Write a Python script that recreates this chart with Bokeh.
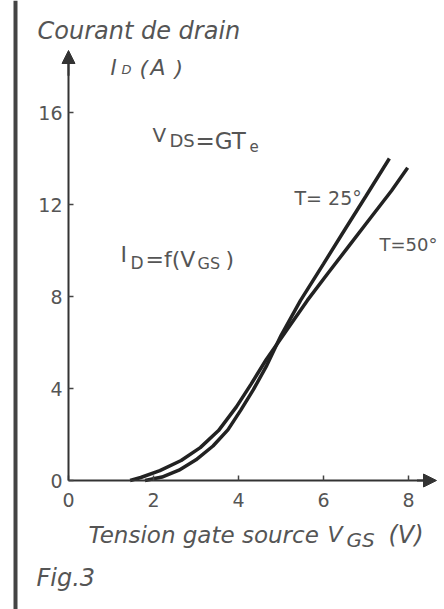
from bokeh.plotting import figure
from bokeh.models import Label, Arrow, NormalHead, Span
from bokeh.embed import file_html
from bokeh.resources import INLINE

# ---- data ----
vgs_25 = [1.8, 2.2, 2.6, 3.0, 3.4, 3.75, 4.05, 4.35, 4.65, 5.0, 5.46, 6.0, 6.5, 7.0, 7.55]
id_25 = [0.0, 0.15, 0.45, 0.9, 1.5, 2.2, 3.05, 3.95, 4.95, 6.3, 7.83, 9.42, 10.9, 12.37, 14.0]
vgs_50 = [1.45, 1.7, 2.15, 2.65, 3.1, 3.53, 3.95, 4.3, 4.65, 5.1, 5.62, 6.1, 6.6, 7.1, 7.6, 7.98]
id_50 = [0.0, 0.13, 0.43, 0.87, 1.43, 2.17, 3.2, 4.2, 5.25, 6.45, 7.83, 9.0, 10.2, 11.4, 12.6, 13.6]
x_ticks = [0, 2, 4, 6, 8]
y_ticks = [0, 4, 8, 12, 16]

# ---- layout ----
W, H = 444, 609
PX_V, PX_A = 42.5, 23.0   # pixels per volt / per ampere
OX, OY = 68, 480          # origin in figure pixels
x0, x1 = -OX / PX_V, (W - OX) / PX_V
y0, y1 = -(H - OY) / PX_A, OY / PX_A


def dx(px):
    return (px - OX) / PX_V


def dy(py):
    return (OY - py) / PX_A


FONT = "DejaVu Sans"
TXT = "#555555"
INK = "#222222"

p = figure(width=W, height=H, x_range=(x0, x1), y_range=(y0, y1),
           output_backend="svg", toolbar_location=None, min_border=0,
           outline_line_color=None, background_fill_color="white",
           border_fill_color="white")
p.grid.visible = False

for ax, ticks, bnd in ((p.xaxis, x_ticks, (0, 8.4)), (p.yaxis, y_ticks, (0, 18.2))):
    ax.fixed_location = 0
    ax.ticker = ticks
    ax.bounds = bnd
    ax.axis_line_width = 2
    ax.axis_line_color = "#333333"
    ax.major_tick_in = 5
    ax.major_tick_out = 0
    ax.major_tick_line_color = "#444444"
    ax.major_tick_line_width = 1.5
    ax.minor_tick_in = 0
    ax.minor_tick_out = 0
    ax.major_label_text_font = FONT
    ax.major_label_text_font_size = "19px"
    ax.major_label_text_color = TXT
p.xaxis.major_label_standoff = 12
p.yaxis.major_label_standoff = 6

# axis arrow heads
p.add_layout(Arrow(end=NormalHead(size=13, fill_color="#333333", line_color="#333333"),
                   x_start=0, y_start=17.6, x_end=0, y_end=dy(50),
                   line_width=2, line_color="#333333"))
p.add_layout(Arrow(end=NormalHead(size=13, fill_color="#333333", line_color="#333333"),
                   x_start=8.2, y_start=0, x_end=dx(436), y_end=0,
                   line_width=2, line_color="#333333"))

# left frame rule
p.add_layout(Span(location=dx(15), dimension="height", line_width=4, line_color="#444444"))

# curves
p.line(vgs_25, id_25, line_width=3.5, line_color=INK)
p.line(vgs_50, id_50, line_width=3.5, line_color=INK)


def lab(px, py, text, size, italic=False):
    p.add_layout(Label(x=dx(px), y=dy(py - 8), text=text, text_font=FONT,
                       text_font_size=f"{size}px",
                       text_font_style="italic" if italic else "normal",
                       text_color=TXT, text_baseline="alphabetic", text_align="left"))


# axis titles
lab(37, 38, "Courant de drain", 24, True)
lab(110, 75, "I", 21, True)
lab(121, 77, "D", 13, True)
lab(139, 76, "(", 22, True)
lab(150, 75, "A", 22, True)
lab(174, 76, ")", 22, True)
lab(88, 542, "Tension gate source ", 23, True)
lab(327, 542, "V", 22, True)
lab(346, 547, "GS", 20, True)
lab(388, 542, "(V)", 24, True)
lab(36, 585, "Fig.3", 24, True)

# annotations
lab(152, 142, "V", 20)
lab(169, 148, "DS", 18)
lab(195, 148, "=GT", 23)
lab(249, 153, "e", 15)

lab(120, 262, "I", 22)
lab(130, 270, "D", 17)
lab(145, 267, "=f(V", 22)
lab(197, 271, "GS", 16)
lab(225, 267, ")", 22)

lab(294, 205, "T= 25°", 19)
lab(379, 252, "T=50°", 18)

open("out.html", "w").write(file_html(p, INLINE))
